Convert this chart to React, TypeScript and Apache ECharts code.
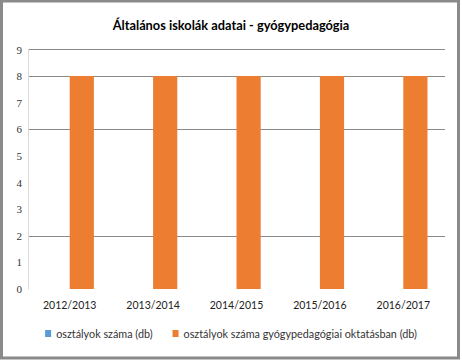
import React, { useEffect, useRef } from "react";
import * as echarts from "echarts";

const categories = ["2012/2013", "2013/2014", "2014/2015", "2015/2016", "2016/2017"];
const seriesNames = ["osztályok száma (db)", "osztályok száma gyógypedagógiai oktatásban (db)"];
const osztalyokSzama = [0, 0, 0, 0, 0];
const gyogypedOsztalyok = [8, 8, 8, 8, 8];
const title = "Általános iskolák adatai - gyógypedagógia";

export default function App() {
  const ref = useRef<HTMLDivElement>(null);
  useEffect(() => {
    if (!ref.current) return;
    const chart = echarts.init(ref.current, null, { renderer: "svg" });
    const gridColor = "#8a8a8a";
    chart.setOption({
      animation: false,
      backgroundColor: "#ffffff",
      title: {
        text: title,
        left: "center",
        top: 13,
        textStyle: { fontFamily: "Lato", fontWeight: "bold", fontSize: 12.8, color: "#000" },
      },
      grid: { left: 28, right: 17, top: 49.5, bottom: 72 },
      legend: {
        data: seriesNames,
        bottom: 17,
        left: "center",
        itemWidth: 6,
        itemHeight: 7,
        itemGap: 20,
        icon: "rect",
        textStyle: { fontFamily: "Lato", fontSize: 10.8, color: "#333" },
      },
      xAxis: {
        type: "category",
        data: categories,
        axisLine: { show: false },
        axisTick: { show: false },
        axisLabel: { margin: 10, fontFamily: "Lato", fontSize: 10.5, color: "#222" },
      },
      yAxis: {
        type: "value",
        min: 0,
        max: 9,
        interval: 1,
        axisLine: { show: true, lineStyle: { color: "#d9d9d9" } },
        axisTick: { show: false },
        axisLabel: { margin: 6, fontFamily: "Liberation Serif, serif", fontSize: 11, color: "#333" },
        splitLine: {
          show: true,
          lineStyle: {
            color: ["transparent", "transparent", gridColor, "transparent", "transparent", "transparent", gridColor, "transparent", gridColor, gridColor],
            width: 1,
          },
        },
      },
      series: [
        {
          name: seriesNames[0],
          type: "bar",
          data: osztalyokSzama,
          itemStyle: { color: "#5B9BD5" },
          barGap: "0%",
          barCategoryGap: "42%",
        },
        {
          name: seriesNames[1],
          type: "bar",
          data: gyogypedOsztalyok,
          itemStyle: { color: "#ED7D31" },
          barGap: "0%",
          barCategoryGap: "42%",
        },
      ],
      graphic: [
        {
          type: "rect",
          shape: { x: 1.5, y: 1, width: 457, height: 357 },
          style: { fill: "none", stroke: "#8a8a8a", lineWidth: 3 },
          silent: true,
        },
      ],
    });
    return () => chart.dispose();
  }, []);
  return (
    <div style={{ position: "fixed", left: 0, top: 0, width: 462, height: 361 }}>
      <div ref={ref} style={{ width: 462, height: 361 }} />
    </div>
  );
}
